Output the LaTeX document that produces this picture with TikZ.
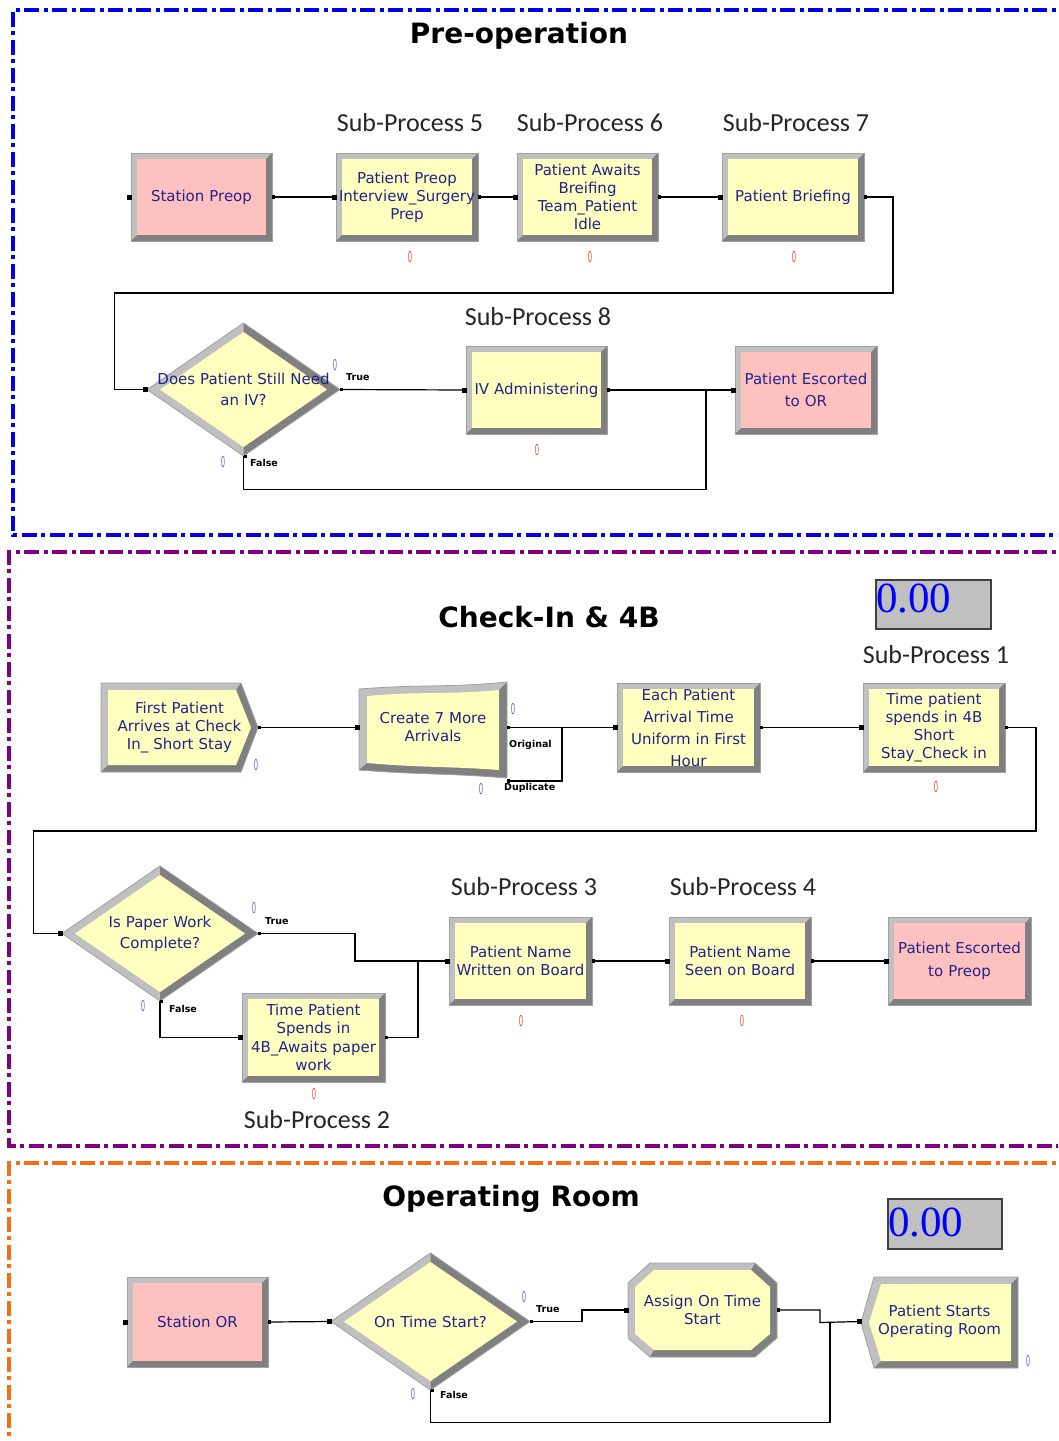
\documentclass[tikz,border=0pt]{standalone}
\usepackage{fontspec}
\setmainfont{DejaVu Sans}
\newfontfamily\subfont{Carlito}
\newfontfamily\numfont{Liberation Serif}
\usetikzlibrary{calc}
\definecolor{txtblue}{RGB}{35,35,135}
\definecolor{pinkfill}{RGB}{255,192,192}
\definecolor{yelfill}{RGB}{255,255,192}
\definecolor{bevl}{RGB}{192,192,192}
\definecolor{bevd}{RGB}{128,128,128}
\definecolor{bevo}{RGB}{160,160,160}
\definecolor{cntred}{RGB}{200,90,60}
\definecolor{cntblue}{RGB}{110,100,210}
\definecolor{frblue}{RGB}{0,0,235}
\definecolor{frpurple}{RGB}{128,0,128}
\definecolor{frorange}{RGB}{245,110,20}
\tikzset{
 boxtext/.style={text=txtblue, font=\fontsize{15}{18}\selectfont, align=center, inner sep=0pt},
 conn/.style={line width=1.2pt, black},
 frm/.style={line width=3.5pt, dash pattern=on 15pt off 4pt on 4pt off 5pt},
 ttl/.style={font=\bfseries\fontsize{28}{32}\selectfont, text=black},
 subp/.style={font=\subfont\fontsize{26}{30}\selectfont, text=black!85},
 cnt/.style={font=\fontsize{15}{16}\selectfont, inner sep=0pt},
 lab/.style={font=\bfseries\fontsize{9.5}{11}\selectfont, inner sep=0pt, anchor=west},
 disp/.style={draw=black!75, line width=1.5pt, fill=bevl, inner sep=0pt, anchor=north west},
 dispnum/.style={font=\numfont\fontsize{43}{43}\selectfont, text=blue, inner sep=0pt, anchor=base west},
}
\newcommand\cz{\scalebox{0.45}[1]{0}}
% process box: name, x1, y1, x2, y2, fill, baselineskip, text
\newcommand\procbox[8]{%
 \pgfmathsetmacro\pbw{#4-#2}\pgfmathsetmacro\pbh{#5-#3}%
 \fill[bevl] (#2,#3) rectangle (#4,#5);
 \fill[bevd] (#4,#3) -- (#4,#5) -- (#2,#5) -- ({#2+6},{#5-6}) -- ({#4-6},{#5-6}) -- ({#4-6},{#3+6}) -- cycle;
 \fill[#6] ({#2+6},{#3+6}) rectangle ({#4-6},{#5-6});
 \draw[bevo, line width=0.8pt] (#2,#3) rectangle (#4,#5);
 \node[boxtext, font=\fontsize{15}{#7}\selectfont, minimum width=\pbw pt, minimum height=\pbh pt, text width=\pbw pt] (#1) at ({(#2+#4)/2},{(#3+#5)/2}) {#8};
}
% decide diamond: name, l, t, r, b, baselineskip, text
\newcommand\decide[7]{%
 \pgfmathsetmacro\dcx{(#2+#4)/2}\pgfmathsetmacro\dcy{(#3+#5)/2}%
 \pgfmathsetmacro\pbw{#4-#2}\pgfmathsetmacro\pbh{#5-#3}%
 \fill[bevl] (#2,\dcy) -- (\dcx,#3) -- (#4,\dcy) -- (\dcx,#5) -- cycle;
 \fill[bevd] (\dcx,#3) -- (#4,\dcy) -- (\dcx,#5) -- (\dcx,{#5-9}) -- ({#4-13},\dcy) -- (\dcx,{#3+9}) -- cycle;
 \fill[yelfill] ({#2+13},\dcy) -- (\dcx,{#3+9}) -- ({#4-13},\dcy) -- (\dcx,{#5-9}) -- cycle;
 \draw[bevo, line width=0.8pt] (#2,\dcy) -- (\dcx,#3) -- (#4,\dcy) -- (\dcx,#5) -- cycle;
 \node[boxtext, font=\fontsize{15}{#6}\selectfont, minimum width=\pbw pt, minimum height=\pbh pt, text width=\pbw pt] (#1) at (\dcx,\dcy) {#7};
}
\newcommand\inp[1]{\fill[black] ($(#1)+(-4,-2.5)$) rectangle ++(5,5);}
\newcommand\outp[1]{\fill[black] ($(#1)+(0,-1.6)$) rectangle ++(3,3.2);}
\begin{document}
\begin{tikzpicture}[x=1pt,y=-1pt]
\useasboundingbox (0,0) rectangle (1058,1441);
\fill[white] (0,0) rectangle (1058,1441);
\clip (0,0) rectangle (1058,1441);

% frames
\draw[frm, frblue] (1075,10) -- (13,10) -- (13,535) -- (1075,535);
\draw[frm, frpurple] (1075,552) -- (9,552) -- (9,1146) -- (1075,1146);
\draw[frm, frorange] (1075,1163) -- (9,1163) -- (9,1470);

% titles
\node[ttl] (t1) at (519,36) {Pre-operation};
\node[ttl] (t2) at (549,617) {Check-In \& 4B};
\node[ttl] (t3) at (511,1199) {Operating Room};

% sub-process labels
\node[subp] (sp5) at (410,123) {Sub-Process 5};
\node[subp] (sp6) at (590,123) {Sub-Process 6};
\node[subp] (sp7) at (796,123) {Sub-Process 7};
\node[subp] (sp8) at (538,317) {Sub-Process 8};
\node[subp] (sp1) at (936,655) {Sub-Process 1};
\node[subp] (sp3) at (524,887) {Sub-Process 3};
\node[subp] (sp4) at (743,887) {Sub-Process 4};
\node[subp] (sp2) at (317,1120) {Sub-Process 2};

% displays
\node[disp, minimum width=115pt, minimum height=49pt] (disp1) at (875,579) {};
\node[dispnum] (disp1t) at (876,612) {0.00};
\node[disp, minimum width=114pt, minimum height=50pt] (disp2) at (887,1198) {};
\node[dispnum] (disp2t) at (888,1236) {0.00};

% ===== Section 1 =====
\procbox{stpre}{131}{153}{272}{241}{pinkfill}{22}{Station Preop}
\procbox{preop}{336}{153}{478}{241}{yelfill}{18}{Patient Preop\\Interview\_Surgery\\Prep}
\procbox{await}{517}{153}{658}{241}{yelfill}{18}{Patient Awaits\\Breifing\\Team\_Patient\\Idle}
\procbox{brief}{722}{153}{864}{241}{yelfill}{18}{Patient Briefing}
\decide{d1}{147}{323}{340}{456}{21}{Does Patient Still Need\\an IV?}
\procbox{iv}{466}{346}{607}{434}{yelfill}{18}{IV Administering}
\procbox{esc}{735}{346}{877}{434}{pinkfill}{22}{Patient Escorted\\to OR}

\coordinate (j1) at (706,390);
\draw[conn] (stpre.east) -- (preop.west);
\draw[conn] (preop.east) -- (await.west);
\draw[conn] (await.east) -- (brief.west);
\draw[conn] (brief.east) -| (893,293) -| ($(d1.west)+(-32,0)$) -- (d1.west);
\draw[conn] (d1.east) -- (iv.west);
\draw[conn] (iv.east) -- (esc.west);
\draw[conn] (d1.south) -- ++(0,33) -| (j1);

\node[cnt, text=cntred] (c1) at (410,257) {\cz};
\node[cnt, text=cntred] (c2) at (590,257) {\cz};
\node[cnt, text=cntred] (c3) at (794,257) {\cz};
\node[cnt, text=cntblue] (c4) at (335,365) {\cz};
\node[cnt, text=cntblue] (c5) at (223,462) {\cz};
\node[cnt, text=cntred] (c6) at (537,450) {\cz};
\node[lab] (l1) at (346,377) {True};
\node[lab] (l2) at (250,463) {False};

% ===== Section 2 =====
% create
\fill[bevl] (101,683) -- (241,683) -- (258,727.5) -- (241,772) -- (101,772) -- cycle;
\fill[bevd] (241,683) -- (258,727.5) -- (241,772) -- (101,772) -- (108,765) -- (236,765) -- (251,727.5) -- (236,690) -- cycle;
\fill[yelfill] (108,690) -- (236,690) -- (251,727.5) -- (236,765) -- (108,765) -- cycle;
\draw[bevo, line width=0.8pt] (101,683) -- (241,683) -- (258,727.5) -- (241,772) -- (101,772) -- cycle;
\node[boxtext, minimum width=157pt, minimum height=89pt, text width=150pt] (fp) at (179.5,727.5) {First Patient\\Arrives at Check\\In\_ Short Stay};

% separate
\fill[bevl] (359,689) .. controls (425,684) and (445,688) .. (507,682) -- (507,778) .. controls (445,773) and (425,775) .. (359,770) -- cycle;
\begin{scope}
\clip (359,770) -- (367,763) -- (499,690) -- (507,682) -- (530,682) -- (530,800) -- (340,800) -- cycle;
\fill[bevd] (359,689) .. controls (425,684) and (445,688) .. (507,682) -- (507,778) .. controls (445,773) and (425,775) .. (359,770) -- cycle;
\end{scope}
\fill[yelfill] (367,696) .. controls (425,691) and (445,695) .. (499,690) -- (499,770) .. controls (445,766) and (425,768) .. (367,763) -- cycle;
\draw[bevo, line width=0.8pt] (359,689) .. controls (425,684) and (445,688) .. (507,682) -- (507,778) .. controls (445,773) and (425,775) .. (359,770) -- cycle;
\node[boxtext, minimum width=148pt, minimum height=90pt, text width=140pt] (sep) at (433,727.5) {Create 7 More\\Arrivals};

\procbox{each}{617}{683}{760}{772}{yelfill}{22}{Each Patient\\Arrival Time\\Uniform in First\\Hour}
\procbox{t4b}{863}{683}{1005}{772}{yelfill}{18}{Time patient\\spends in 4B\\Short\\Stay\_Check in}
\decide{d2}{62}{866}{258}{1001}{21}{Is Paper Work\\Complete?}
\procbox{tps}{242}{993}{385}{1082}{yelfill}{18.5}{Time Patient\\Spends in\\4B\_Awaits paper\\work}
\procbox{pnw}{449}{917}{592}{1005}{yelfill}{18}{Patient Name\\Written on Board}
\procbox{pns}{669}{917}{811}{1005}{yelfill}{18}{Patient Name\\Seen on Board}
\procbox{pep}{888}{917}{1031}{1005}{pinkfill}{23}{Patient Escorted\\to Preop}

\coordinate (dup) at (507,781);
\coordinate (j2) at (562,727.5);
\coordinate (j3) at (418,961);
\draw[conn] (fp.east) -- (sep.west);
\draw[conn] (sep.east) -- (each.west);
\draw[conn] (dup) -| (j2);
\draw[conn] (each.east) -- (t4b.west);
\draw[conn] (t4b.east) -| (1036,831) -| ($(d2.west)+(-28,0)$) -- (d2.west);
\draw[conn] (d2.east) -| (355,961) -- (pnw.west);
\draw[conn] (d2.south) |- (tps.west);
\draw[conn] (tps.east) -| (j3);
\draw[conn] (pnw.east) -- (pns.west);
\draw[conn] (pns.east) -- (pep.west);

\node[cnt, text=cntblue] (c7) at (256,765) {\cz};
\node[cnt, text=cntblue] (c8) at (513,709) {\cz};
\node[cnt, text=cntblue] (c9) at (481,789) {\cz};
\node[cnt, text=cntred] (c10) at (936,787) {\cz};
\node[cnt, text=cntblue] (c11) at (254,908) {\cz};
\node[cnt, text=cntblue] (c12) at (143,1006) {\cz};
\node[cnt, text=cntred] (c13) at (314,1094) {\cz};
\node[cnt, text=cntred] (c14) at (521,1021) {\cz};
\node[cnt, text=cntred] (c15) at (742,1021) {\cz};
\node[lab] (l3) at (509,745) {Original};
\node[lab] (l4) at (504,788) {Duplicate};
\node[lab] (l5) at (265,921) {True};
\node[lab] (l6) at (169,1009) {False};

% ===== Section 3 =====
\procbox{stor}{127}{1277}{268}{1367}{pinkfill}{22}{Station OR}
\decide{d3}{331}{1253}{530}{1390}{21}{On Time Start?}
% assign
\fill[bevl] (650,1263) -- (755,1263) -- (777,1283) -- (777,1338) -- (755,1357) -- (650,1357) -- (628,1338) -- (628,1283) -- cycle;
\fill[bevd] (755,1263) -- (777,1283) -- (777,1338) -- (755,1357) -- (650,1357) -- (654,1350) -- (751,1350) -- (770,1334) -- (770,1287) -- (751,1270) -- cycle;
\fill[yelfill] (654,1270) -- (751,1270) -- (770,1287) -- (770,1334) -- (751,1350) -- (654,1350) -- (635,1334) -- (635,1287) -- cycle;
\draw[bevo, line width=0.8pt] (650,1263) -- (755,1263) -- (777,1283) -- (777,1338) -- (755,1357) -- (650,1357) -- (628,1338) -- (628,1283) -- cycle;
\node[boxtext, minimum width=149pt, minimum height=94pt, text width=145pt] (asg) at (702.5,1310) {Assign On Time\\Start};
% dispose
\fill[bevl] (874,1277) -- (1018,1277) -- (1018,1368) -- (874,1368) -- (861,1322.5) -- cycle;
\fill[bevd] (1018,1277) -- (1018,1368) -- (874,1368) -- (881,1361) -- (1011,1361) -- (1011,1284) -- cycle;
\fill[yelfill] (881,1284) -- (1011,1284) -- (1011,1361) -- (881,1361) -- (869,1322.5) -- cycle;
\draw[bevo, line width=0.8pt] (874,1277) -- (1018,1277) -- (1018,1368) -- (874,1368) -- (861,1322.5) -- cycle;
\node[boxtext, minimum width=157pt, minimum height=91pt, text width=150pt] (dsp) at (939.5,1321.5) {Patient Starts\\Operating Room};

\coordinate (j4) at (830,1322.5);
\draw[conn] (stor.east) -- (d3.west);
\draw[conn] (d3.east) -| (582,1310) -- (asg.west);
\draw[conn] (asg.east) -| (820,1322.5) -- (dsp.west);
\draw[conn] (d3.south) -- ++(0,32) -| (j4);

\node[cnt, text=cntblue] (c16) at (524,1297) {\cz};
\node[cnt, text=cntblue] (c17) at (413,1394) {\cz};
\node[cnt, text=cntblue] (c18) at (1028,1361) {\cz};
\node[lab] (l7) at (536,1309) {True};
\node[lab] (l8) at (440,1395) {False};

% connector end markers
\foreach \p in {stpre.west,preop.west,await.west,brief.west,d1.west,iv.west,esc.west,sep.west,each.west,t4b.west,d2.west,tps.west,pnw.west,pns.west,pep.west,stor.west,d3.west,asg.west,dsp.west}{\inp{\p}}
\foreach \p in {stpre.east,preop.east,await.east,brief.east,d1.east,d1.south,iv.east,fp.east,sep.east,dup,each.east,t4b.east,d2.east,d2.south,tps.east,pnw.east,pns.east,stor.east,d3.east,d3.south,asg.east}{\outp{\p}}
\end{tikzpicture}
\end{document}
